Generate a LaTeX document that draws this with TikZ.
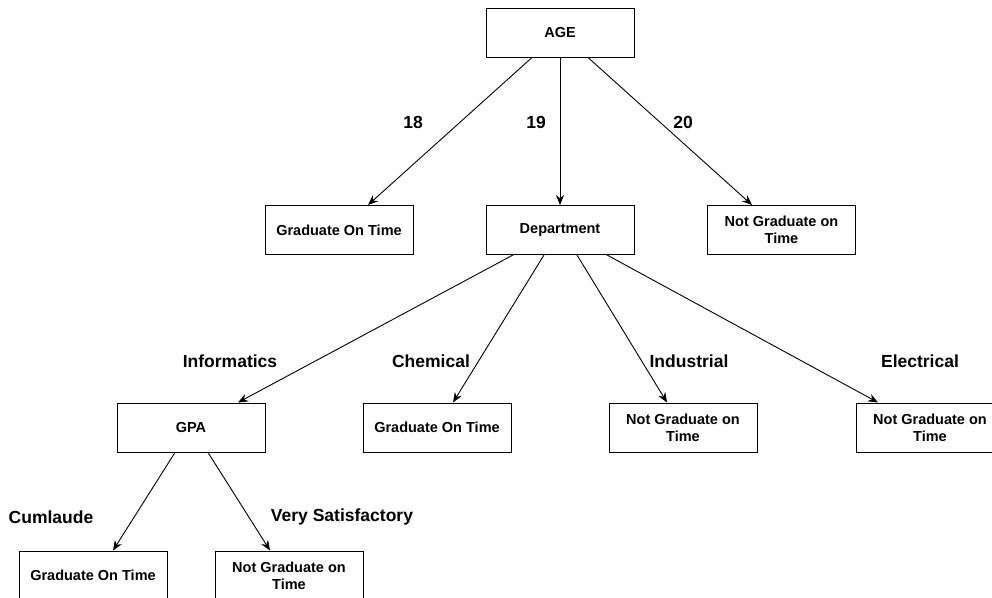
\documentclass[tikz,border=0pt]{standalone}
\usepackage{fontspec}
\setmainfont{Liberation Sans}
\usetikzlibrary{arrows.meta}
\begin{document}
\begin{tikzpicture}[x=1pt,y=-1pt,
  box/.style={draw, line width=1pt, minimum width=148pt, minimum height=49pt, inner sep=0pt,
    align=center, font=\fontsize{14.5}{17}\selectfont\bfseries},
  lbl/.style={font=\fontsize{17.5}{20}\selectfont\bfseries, inner sep=0pt},
  arr/.style={line width=0.9pt, -{Stealth[length=10pt,width=8pt]}}]
\useasboundingbox (0,0) rectangle (992,597);
\node[box] (age) at (560,32.5) {AGE};
\node[box] (g1) at (339,230) {Graduate On Time};
\node[box] (dep) at (560,230) {Department};
\node[box] (n1) at (781.5,230) {Not Graduate on\\Time};
\node[box] (gpa) at (191,427.5) {GPA};
\node[box] (g2) at (437,427.5) {Graduate On Time};
\node[box] (n2) at (683,427.5) {Not Graduate on\\Time};
\node[box] (n3) at (930,427.5) {Not Graduate on\\Time};
\node[box] (g3) at (93,575.5) {Graduate On Time};
\node[box] (n4) at (289,575.5) {Not Graduate on\\Time};

\draw[arr] ([xshift=-28pt]age.south) -- ([xshift=29pt]g1.north);
\draw[arr] (age.south) -- (dep.north);
\draw[arr] ([xshift=28pt]age.south) -- ([xshift=-29.5pt]n1.north);
\draw[arr] ([xshift=-47pt]dep.south) -- ([xshift=47pt]gpa.north);
\draw[arr] ([xshift=-16pt]dep.south) -- ([xshift=16pt]g2.north);
\draw[arr] ([xshift=17pt]dep.south) -- ([xshift=-16pt]n2.north);
\draw[arr] ([xshift=47pt]dep.south) -- ([xshift=-52pt]n3.north);
\draw[arr] ([xshift=-16pt]gpa.south) -- ([xshift=20pt]g3.north);
\draw[arr] ([xshift=17pt]gpa.south) -- ([xshift=-19pt]n4.north);

\node[lbl] (l18) at (413,122) {18};
\node[lbl] (l19) at (536,122) {19};
\node[lbl] (l20) at (683,122) {20};
\node[lbl] (linf) at (230,361) {Informatics};
\node[lbl] (lche) at (431,361) {Chemical};
\node[lbl] (lind) at (689,361) {Industrial};
\node[lbl] (lele) at (920,361) {Electrical};
\node[lbl] (lcum) at (51,517) {Cumlaude};
\node[lbl] (lvs) at (342,517) {Very Satisfactory};
\end{tikzpicture}
\end{document}
